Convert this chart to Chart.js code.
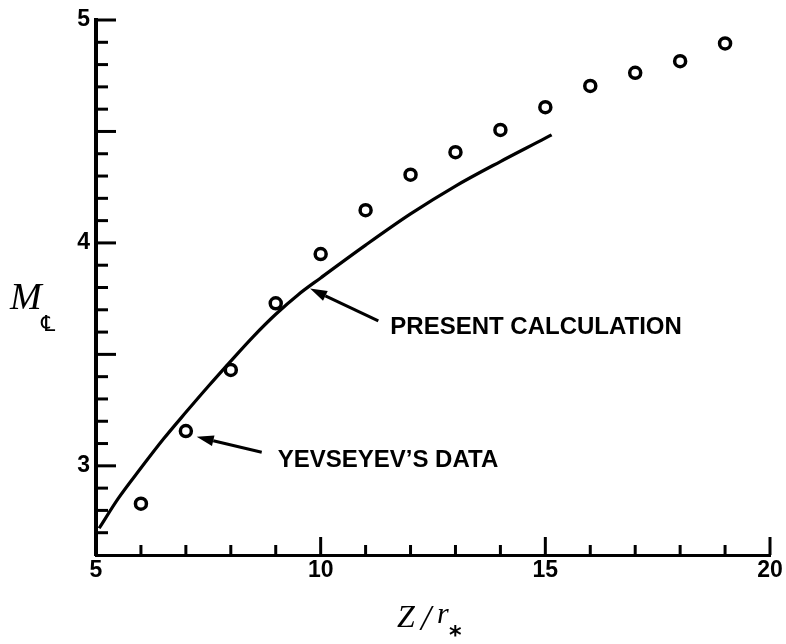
<!DOCTYPE html>
<html><head><meta charset="utf-8">
<script src="https://cdn.jsdelivr.net/npm/chart.js@4.4.1/dist/chart.umd.min.js"></script>
<style>html,body{margin:0;padding:0;background:#fff;}#wrap{width:786px;height:644px;}</style>
</head><body><div id="wrap"><canvas id="c" width="786" height="644"></canvas></div>
<script>
// Yevseyev's data (circles)
const yevseyevX = [6, 7, 8, 9, 10, 11, 12, 13, 14, 15, 16, 17, 18, 19];
const yevseyevM = [2.83, 3.156, 3.43, 3.729, 3.95, 4.147, 4.306, 4.407, 4.507, 4.609, 4.704, 4.763, 4.815, 4.895];
// Present calculation (curve)
const calcX = [5.07, 5.5, 6, 6.5, 7, 7.5, 8, 8.5, 9, 9.5, 10, 11, 12, 13, 14, 15, 15.14];
const calcM = [2.72, 2.855, 2.99, 3.12, 3.24, 3.357, 3.47, 3.58, 3.68, 3.768, 3.843, 3.99, 4.13, 4.255, 4.365, 4.47, 4.485];
// tick labels
const xTickLabels = [5, 10, 15, 20];
const yTickLabels = [3, 4, 5];
// annotation texts
const calcLabel = "PRESENT CALCULATION";
const dataLabel = "YEVSEYEV\u2019S DATA";

const inTicks = {
  id: 'inTicks',
  afterDraw(chart) {
    const {ctx, scales: {x, y}} = chart;
    ctx.save();
    ctx.strokeStyle = '#000';
    ctx.lineWidth = 3;
    const left = x.getPixelForValue(5), bottom = y.getPixelForValue(2.6);
    for (let i = 27; i <= 50; i++) {
      const py = y.getPixelForValue(i / 10);
      const len = (i % 5 === 0) ? 20 : 12;
      ctx.beginPath(); ctx.moveTo(left, py); ctx.lineTo(left + len, py); ctx.stroke();
    }
    for (let v = 6; v <= 20; v++) {
      const px = x.getPixelForValue(v);
      const len = (v % 5 === 0) ? 18 : 10;
      ctx.beginPath(); ctx.moveTo(px, bottom); ctx.lineTo(px, bottom - len); ctx.stroke();
    }
    ctx.restore();
  }
};

function arrow(ctx, x1, y1, x2, y2) {
  const ang = Math.atan2(y2 - y1, x2 - x1);
  const L = 17, W = 5.5;
  const bx = x2 - L * Math.cos(ang), by = y2 - L * Math.sin(ang);
  ctx.beginPath(); ctx.moveTo(x1, y1); ctx.lineTo(bx, by); ctx.stroke();
  ctx.beginPath();
  ctx.moveTo(x2, y2);
  ctx.lineTo(bx + W * Math.sin(ang), by - W * Math.cos(ang));
  ctx.lineTo(bx - W * Math.sin(ang), by + W * Math.cos(ang));
  ctx.closePath(); ctx.fill();
}

const notes = {
  id: 'notes',
  afterDraw(chart) {
    const {ctx, scales: {x, y}} = chart;
    ctx.save();
    ctx.strokeStyle = '#000'; ctx.fillStyle = '#000'; ctx.lineWidth = 3;
    const t1x = x.getPixelForValue(11.283), t1y = y.getPixelForValue(3.65);
    arrow(ctx, t1x, t1y, x.getPixelForValue(9.763), y.getPixelForValue(3.795));
    const t2x = x.getPixelForValue(8.688), t2y = y.getPixelForValue(3.061);
    arrow(ctx, t2x, t2y, x.getPixelForValue(7.241), y.getPixelForValue(3.13));
    ctx.font = 'bold 24px "Liberation Sans", Arial, sans-serif';
    ctx.textBaseline = 'middle'; ctx.textAlign = 'left';
    ctx.fillText(calcLabel, t1x + 12, t1y + 6);
    ctx.fillText(dataLabel, t2x + 16, t2y + 8);

    const cx = (x.left + x.right) / 2;
    const by = 627;
    ctx.textBaseline = 'alphabetic';
    ctx.font = 'italic 32px "Liberation Serif", serif';
    ctx.fillText('Z', cx - 36, by);
    ctx.font = 'italic 36px "Liberation Serif", serif';
    ctx.fillText('/', cx - 12, by + 3);
    ctx.font = 'italic 30px "Liberation Serif", serif';
    ctx.fillText('r', cx + 4, by - 4);
    ctx.font = 'bold 24px "DejaVu Sans", sans-serif';
    ctx.fillText('*', cx + 16, by + 16);

    ctx.font = 'italic 38px "Liberation Serif", serif';
    ctx.fillText('M', 10, 309);
    ctx.font = '22px "DejaVu Sans", sans-serif';
    ctx.fillText('\u2104', 41, 331);
    ctx.restore();
  }
};

const tickFont = {family: '"Liberation Sans", Arial, sans-serif', weight: 'bold', size: 23};

new Chart(document.getElementById('c'), {
  type: 'scatter',
  data: {
    datasets: [
      {
        label: calcLabel,
        data: calcX.map((v, i) => ({x: v, y: calcM[i]})),
        showLine: true, borderColor: '#000', borderWidth: 3.2,
        pointRadius: 0, cubicInterpolationMode: 'monotone', fill: false, clip: false
      },
      {
        label: dataLabel,
        data: yevseyevX.map((v, i) => ({x: v, y: yevseyevM[i]})),
        showLine: false, pointRadius: 5.5, pointBorderWidth: 3.5,
        pointBackgroundColor: '#fff', pointBorderColor: '#000', clip: false
      }
    ]
  },
  options: {
    responsive: false, animation: false, events: [],
    plugins: {legend: {display: false}, tooltip: {enabled: false}},
    layout: {padding: {top: 20, right: 16, left: 0, bottom: 0}},
    scales: {
      x: {
        type: 'linear', min: 5, max: 20,
        afterBuildTicks: s => { s.ticks = xTickLabels.map(v => ({value: v})); },
        afterFit: s => { s.height = 89; },
        grid: {display: false, drawTicks: false},
        border: {display: true, color: '#000', width: 3},
        ticks: {color: '#000', font: tickFont, padding: 2, maxRotation: 0, autoSkip: false}
      },
      y: {
        type: 'linear', min: 2.6, max: 5,
        afterBuildTicks: s => { s.ticks = yTickLabels.map(v => ({value: v})); },
        afterFit: s => { s.width = 96; },
        grid: {display: false, drawTicks: false},
        border: {display: true, color: '#000', width: 4},
        ticks: {color: '#000', font: tickFont, padding: 6, autoSkip: false}
      }
    }
  },
  plugins: [inTicks, notes]
});
</script>
</body></html>
